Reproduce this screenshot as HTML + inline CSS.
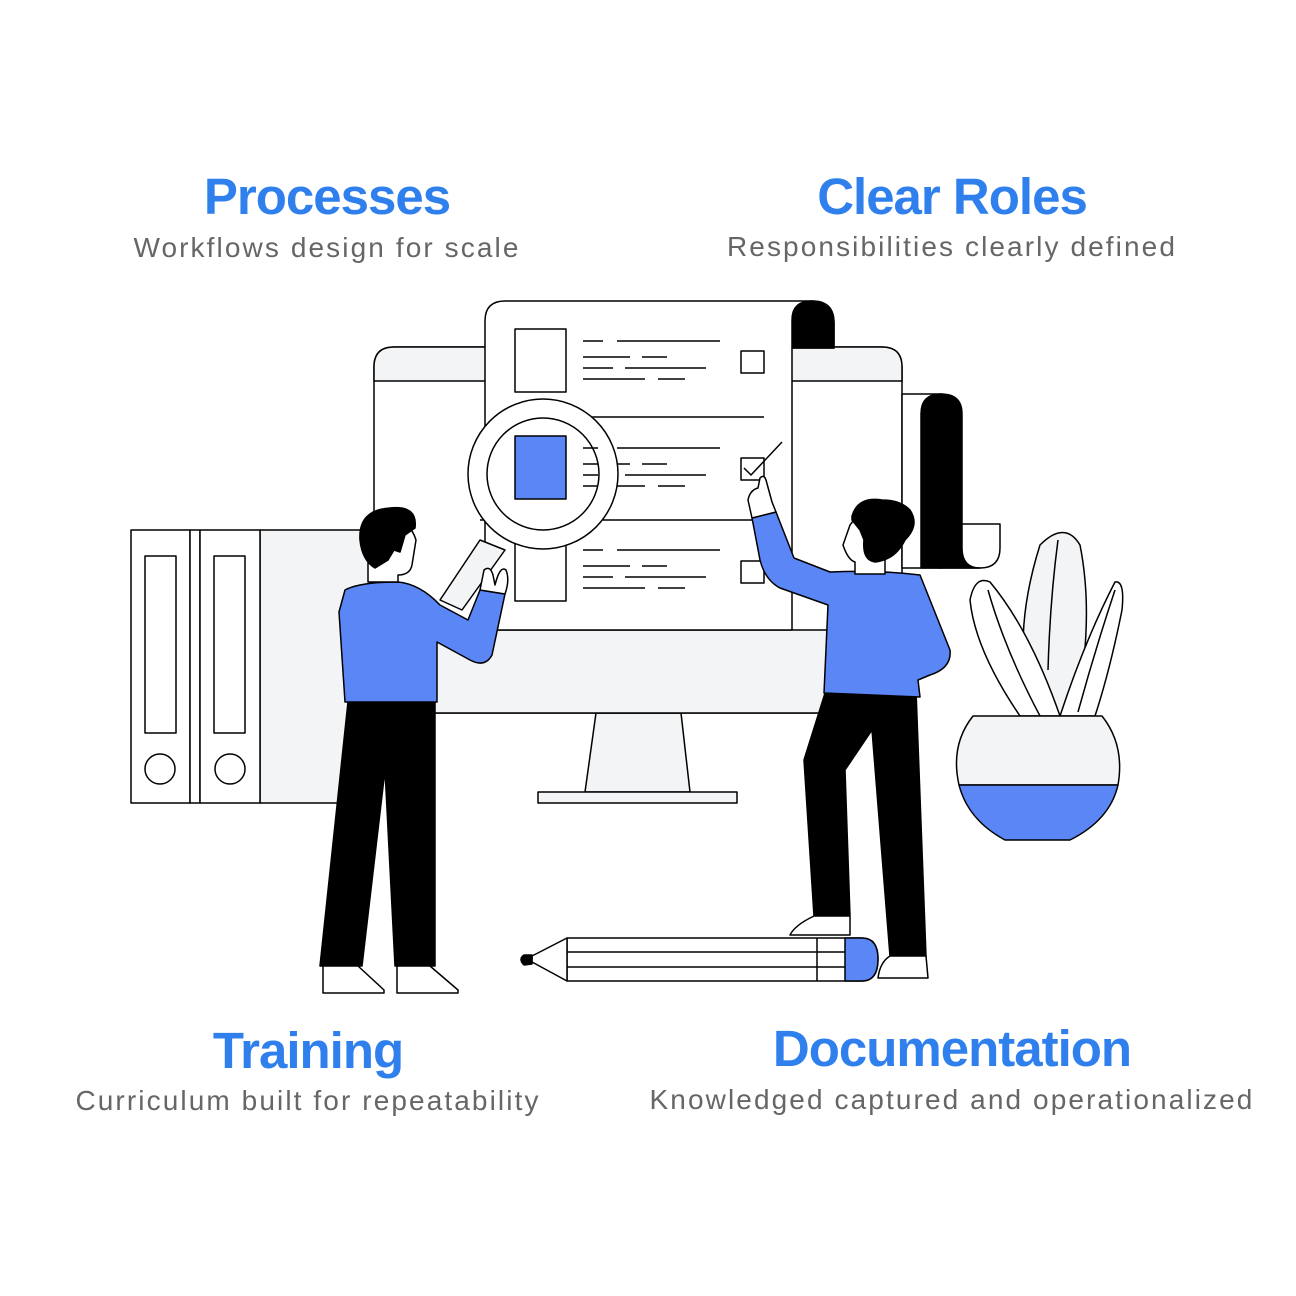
<!DOCTYPE html>
<html><head><style>
body{margin:0;background:#fff;}
svg{display:block}
.t{font-family:"Liberation Sans",sans-serif;font-weight:bold;fill:#2f80ed;font-size:51px;text-anchor:middle;letter-spacing:-1px}
.s{font-family:"Liberation Sans",sans-serif;fill:#666;font-size:28px;text-anchor:middle;letter-spacing:2.1px}
</style></head><body>
<svg width="1296" height="1296" viewBox="0 0 1296 1296" xmlns="http://www.w3.org/2000/svg">
<text class="t" x="327" y="214">Processes</text>
<text class="s" x="327" y="257">Workflows design for scale</text>
<text class="t" x="952" y="214">Clear Roles</text>
<text class="s" x="952" y="256">Responsibilities clearly defined</text>
<text class="t" x="308" y="1068">Training</text>
<text class="s" x="308" y="1110">Curriculum built for repeatability</text>
<text class="t" x="952" y="1066">Documentation</text>
<text class="s" x="952" y="1109">Knowledged captured and operationalized</text>

<g stroke="#000" stroke-width="1.5" fill="#fff" stroke-linejoin="round">
<!-- binders -->
<rect x="260" y="530" width="110" height="273" fill="#f3f4f6"/>
<rect x="131" y="530" width="59" height="273"/>
<rect x="190" y="530" width="10" height="273"/>
<rect x="200" y="530" width="60" height="273"/>
<rect x="145" y="556" width="31" height="177"/>
<rect x="214" y="556" width="31" height="177"/>
<circle cx="160" cy="769" r="15"/>
<circle cx="230" cy="769" r="15"/>
<!-- stand -->
<polygon points="596,713 681,713 690,792 585,792" fill="#f3f4f6"/>
<rect x="538" y="792" width="199" height="11" fill="#f3f4f6"/>
<!-- monitor -->
<path d="M394,347 H882 Q902,347 902,367 V713 H374 V367 Q374,347 394,347 Z"/>
<path d="M394,347 H882 Q902,347 902,367 V381 H374 V367 Q374,347 394,347 Z" fill="#f3f4f6"/>
<rect x="374" y="630" width="528" height="83" fill="#f3f4f6"/>
<!-- right scroll -->
<rect x="902" y="394" width="40" height="174"/>
<path d="M940,524 H1000 V548 Q1000,568 980,568 H940 Z"/>
<path d="M921,414 Q921,394 941,394 Q962,394 962,414 V548 Q962,568 980,568 H921 Z" fill="#000"/>
<!-- document -->
<path d="M505,301 H812 Q834,301 834,323 V348 H792 V630 H485 V321 Q485,301 505,301 Z"/>
<path d="M792,348 V320 Q792,301 812,301 Q834,301 834,323 V348 Z" fill="#000"/>
<rect x="515" y="329" width="51" height="63"/>
<rect x="515" y="540" width="51" height="61"/>
<rect x="741" y="351" width="23" height="22"/>
<rect x="741" y="458" width="23" height="22"/>
<rect x="741" y="561" width="23" height="22"/>
<path d="M592,417 H764 M480,520 H764" fill="none"/>
<g fill="none">
<path d="M583,341H603M617,341H720M583,357H630M642,357H667M583,368H613M625,368H706M583,379H645M658,379H685"/>
<path d="M583,448H603M617,448H720M583,464H630M642,464H667M583,475H613M625,475H706M583,486H645M658,486H685"/>
<path d="M583,550H603M617,550H720M583,566H630M642,566H667M583,577H613M625,577H706M583,588H645M658,588H685"/>
<path d="M744,468 L751,475 L782,442"/>
</g>
<!-- magnifier -->
<polygon points="480,540 505,550 462,610 440,600" fill="#f3f4f6"/>
<circle cx="543" cy="474" r="75"/>
<circle cx="543" cy="474" r="56" fill="#fff"/>
<rect x="515" y="436" width="51" height="63" fill="#5b86f5"/>
<path d="M583,448H598M583,464H598M583,475H598M583,486H598" fill="none"/>
<!-- man -->
<polygon points="348,702 435,702 435,966 395,966 385,770 362,966 320,966" fill="#000"/>
<path d="M323,966 H358 L384,990 V993 H323 Z"/>
<path d="M397,966 H430 L458,990 V993 H397 Z"/>
<path d="M345,590 Q360,582 398,582 Q420,584 440,605 L468,620 L480,590 L505,594 L492,655 Q485,668 470,660 L437,642 V702 H345 L339,612 Z" fill="#5b86f5"/>
<path d="M480,590 L484,570 Q490,565 493,575 L495,585 Q500,565 506,570 Q510,580 505,594 Z"/>
<path d="M368,555 L368,582 L398,582 L398,575 Q410,575 412,565 L416,540 Q410,520 390,520 Z"/>
<path d="M360,540 Q358,510 390,508 Q418,505 415,528 L405,535 L400,552 L394,550 L388,560 L375,568 Q362,560 360,540 Z" fill="#000"/>
<!-- woman -->
<polygon points="826,690 916,690 926,956 890,956 872,730 845,770 850,916 814,916 804,760" fill="#000"/>
<path d="M814,916 H850 V935 H790 Q795,925 814,916 Z"/>
<path d="M890,956 H926 L928,978 H878 Q880,962 890,956 Z"/>
<path d="M752,518 L776,512 L794,558 L830,572 Q880,570 920,575 L950,650 Q952,668 930,675 L918,680 L920,697 L824,693 L828,605 L780,588 Q765,580 760,560 Z" fill="#5b86f5"/>
<path d="M752,518 L748,500 Q750,490 758,488 L760,478 Q764,474 766,480 L772,502 L776,512 Z"/>
<path d="M855,562 L855,574 L885,574 L885,560 Q900,545 895,520 Q880,505 860,512 L850,525 L843,545 Q848,560 855,562 Z"/>
<path d="M852,516 Q858,496 882,500 Q900,500 910,510 Q920,525 905,540 Q895,560 875,562 Q862,560 864,540 L860,530 L852,520 Z" fill="#000"/>
<!-- plant -->
<path d="M1033,716 Q1010,640 1040,545 Q1065,520 1080,545 Q1095,620 1075,716 Z" fill="#f3f4f6"/>
<path d="M1048,670 Q1050,600 1058,540" fill="none"/>
<path d="M1020,716 Q975,650 970,600 Q975,575 990,582 Q1030,630 1060,716 Z"/>
<path d="M988,590 Q1005,650 1040,716" fill="none"/>
<path d="M1060,716 Q1085,640 1115,582 Q1125,580 1122,610 Q1110,670 1095,716 Z"/>
<path d="M1078,712 Q1095,650 1115,590" fill="none"/>
<path d="M973,716 H1102 Q1125,745 1118,785 H959 Q950,745 973,716 Z" fill="#f3f4f6"/>
<path d="M959,785 H1118 Q1110,820 1070,840 H1005 Q968,820 959,785 Z" fill="#5b86f5"/>
<!-- pencil -->
<path d="M567,938 H862 Q878,938 878,959 Q878,981 862,981 H567 Z"/>
<path d="M845,938 H862 Q878,938 878,959 Q878,981 862,981 H845 Z" fill="#5b86f5"/>
<path d="M567,952 H845 M567,967 H845 M817,938 V981" fill="none"/>
<polygon points="567,938 567,981 532,962 532,956"/>
<path d="M532,955 L524,955 Q518,959 524,965 L532,964 Z" fill="#000"/>
</g>
</svg>
</body></html>
